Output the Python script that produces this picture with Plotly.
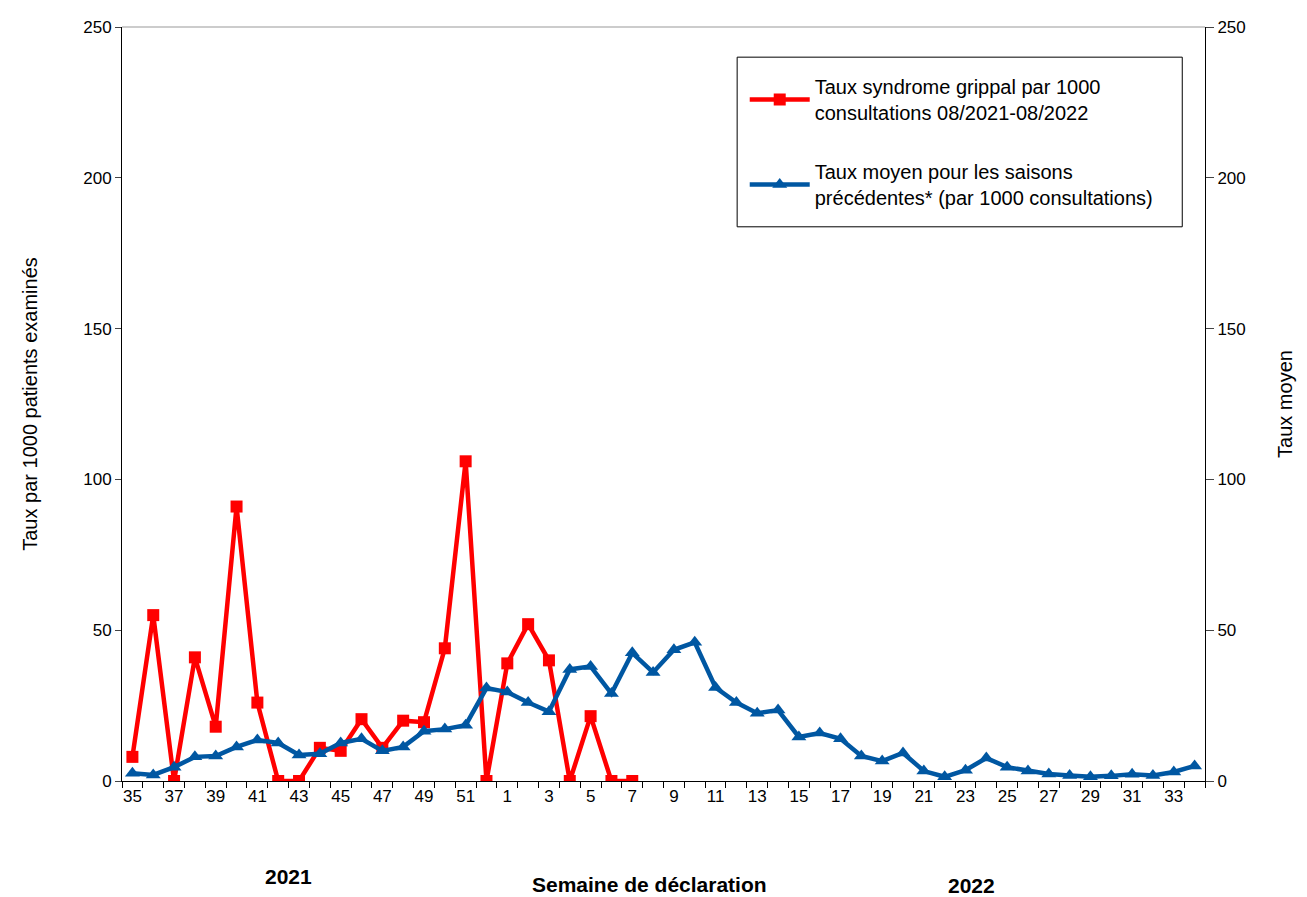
import plotly.graph_objects as go

weeks = [str(w) for w in range(35, 53)] + [str(w) for w in range(1, 35)]

taux_2021_2022 = [8, 55, 0, 41, 18, 91, 26, 0, 0, 11, 10, 20.5, 11, 20, 19.5, 44, 106, 0,
                  39, 52, 40, 0, 21.5, 0, 0]

taux_moyen = [2.6, 2, 4.6, 8, 8.3, 11.3, 13.6, 12.6, 8.6, 9, 12.6, 14, 10, 11.3, 16.5, 17.2, 18.5, 30.8,
              29.5, 26, 23, 37, 38, 29, 42.5, 36, 43.5, 46, 31, 26, 22.5, 23.5, 14.6, 15.9, 14,
              8.3, 6.6, 9.3, 3.3, 1.4, 3.6, 7.6, 4.6, 3.3, 2.3, 1.8, 1.4, 1.7, 2.2, 1.8, 3, 5]

y_ticks = [0, 50, 100, 150, 200, 250]

name_red = "Taux syndrome grippal par 1000<br>consultations 08/2021-08/2022"
name_blue = "Taux moyen pour les saisons<br>précédentes* (par 1000 consultations)"

font_main = "Liberation Sans, Arial, sans-serif"

idx_red = list(range(len(taux_2021_2022)))
idx_blue = list(range(len(taux_moyen)))

fig = go.Figure()
fig.add_trace(go.Scatter(
    x=idx_red, y=taux_2021_2022, mode="lines+markers", name=name_red,
    line=dict(color="#FF0000", width=4.5),
    marker=dict(symbol="square", size=12, color="#FF0000"),
    legendgroup="a", yaxis="y"))
fig.add_trace(go.Scatter(
    x=idx_blue, y=taux_moyen, mode="lines+markers", name=name_blue,
    line=dict(color="#0057A2", width=4.5),
    marker=dict(symbol="triangle-up", size=13, color="#0057A2"),
    legendgroup="b", yaxis="y2"))

fig.update_layout(
    width=1299, height=889,
    margin=dict(l=114, r=102, t=19, b=116, autoexpand=False),
    plot_bgcolor="white", paper_bgcolor="white",
    font=dict(family=font_main, color="black", size=17),
    xaxis=dict(
        range=[-0.5, len(weeks) - 0.5],
        tickmode="array",
        tickvals=list(range(0, len(weeks), 2)),
        ticktext=weeks[::2],
        ticks="", showgrid=False, zeroline=False,
        showline=True, linecolor="black", linewidth=1,
        tickfont=dict(size=17), automargin=False,
        minor=dict(tickmode="linear", tick0=-0.5, dtick=1, ticks="outside",
                   ticklen=6, tickcolor="black", showgrid=False),
    ),
    yaxis=dict(
        range=[0, 250], tickvals=y_ticks, ticks="outside", ticklen=6,
        showgrid=False, zeroline=False, showline=True, linecolor="black",
        tickfont=dict(size=17), automargin=False,
        title=dict(text="Taux par 1000 patients examinés",
                   font=dict(size=20), standoff=40),
    ),
    yaxis2=dict(
        range=[0, 250], tickvals=y_ticks, ticks="outside", ticklen=8,
        overlaying="y", side="right",
        showgrid=False, zeroline=False, showline=True, linecolor="black",
        tickfont=dict(size=17), automargin=False,
        title=dict(text="Taux moyen", font=dict(size=20), standoff=33),
    ),
    legend=dict(
        x=0.575, y=0.947, xanchor="left", yanchor="top",
        borderwidth=0, bgcolor="rgba(0,0,0,0)",
        font=dict(size=20),
        tracegroupgap=30, traceorder="grouped", itemwidth=60,
    ),
    shapes=[
        dict(type="line", xref="paper", yref="paper", x0=0, x1=1, y0=1, y1=1,
             line=dict(color="#999999", width=1)),
        dict(type="rect", xref="paper", yref="paper", x0=0.568, x1=0.979, y0=0.735, y1=0.960,
             line=dict(color="black", width=1), fillcolor="white", layer="below"),
    ],
    annotations=[
        dict(text="<b>2021</b>", xref="paper", yref="paper", x=0.154, y=-0.127,
             xanchor="center", yanchor="middle", showarrow=False, font=dict(size=21)),
        dict(text="<b>Semaine de déclaration</b>", xref="paper", yref="paper", x=0.487, y=-0.137,
             xanchor="center", yanchor="middle", showarrow=False, font=dict(size=21)),
        dict(text="<b>2022</b>", xref="paper", yref="paper", x=0.784, y=-0.138,
             xanchor="center", yanchor="middle", showarrow=False, font=dict(size=21)),
    ],
)

fig.write_html("out.html")
